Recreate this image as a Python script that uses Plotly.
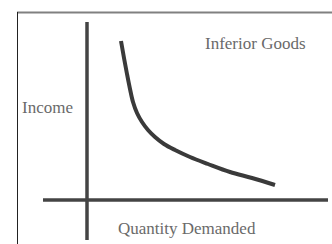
import plotly.graph_objects as go

# Curve data (Quantity Demanded vs Income, origin at axes crossing)
quantity = [34, 37, 40, 43, 46, 50, 55, 61, 68, 77, 88, 103, 121, 143, 165, 188]
income = [159, 142, 126, 111, 98, 87, 78, 70, 63, 56, 50, 43, 36, 28, 22, 15]

title_text = "Inferior Goods"
y_label = "Income"
x_label = "Quantity Demanded"

W, H = 332, 244
ox, oy = 87, 200  # pixel position of origin

fig = go.Figure()
fig.add_trace(go.Scatter(
    x=quantity, y=income, mode="lines",
    line=dict(color="#3a3a3a", width=4, shape="spline", smoothing=1.0),
    hoverinfo="skip", showlegend=False,
))

axis_col = "#444444"
# vertical axis
fig.add_shape(type="line", x0=0, x1=0, y0=oy - 240, y1=oy - 22,
              xref="x", yref="y", line=dict(color=axis_col, width=3.5))
# horizontal axis
fig.add_shape(type="line", x0=43 - ox, x1=328 - ox, y0=0, y1=0,
              xref="x", yref="y", line=dict(color=axis_col, width=3.5))

# frame lines
fig.add_shape(type="line", x0=17 - ox, x1=W - ox, y0=oy - 12.5, y1=oy - 12.5,
              xref="x", yref="y", line=dict(color="#808080", width=2))
fig.add_shape(type="line", x0=17.5 - ox, x1=17.5 - ox, y0=oy - 12, y1=oy - H,
              xref="x", yref="y", line=dict(color="#222222", width=1))

font = dict(family="Liberation Serif, Times New Roman, serif", size=17, color="#6a6a6a")
fig.add_annotation(x=255 - ox, y=oy - 43, text=title_text, showarrow=False,
                   font=font, xanchor="center", yanchor="middle")
fig.add_annotation(x=47 - ox, y=oy - 107, text=y_label, showarrow=False,
                   font=font, xanchor="center", yanchor="middle")
fig.add_annotation(x=187 - ox, y=oy - 228, text=x_label, showarrow=False,
                   font=font, xanchor="center", yanchor="middle")

fig.update_layout(
    width=W, height=H,
    margin=dict(l=0, r=0, t=0, b=0),
    paper_bgcolor="white", plot_bgcolor="white",
    xaxis=dict(range=[-ox, W - ox], visible=False, fixedrange=True),
    yaxis=dict(range=[oy - H, oy], visible=False, fixedrange=True),
)

fig.write_html("out.html", config={"displayModeBar": False},
               post_script="document.body.style.margin='0';document.body.style.overflow='hidden';")
